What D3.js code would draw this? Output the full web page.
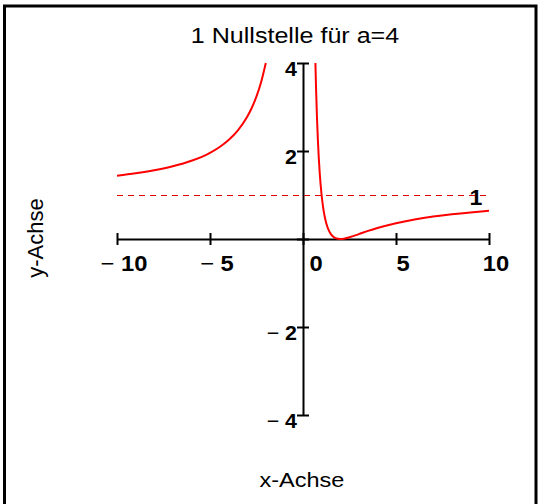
<!DOCTYPE html>
<html><head><meta charset="utf-8">
<script src="https://cdn.jsdelivr.net/npm/d3@7"></script>
<style>html,body{margin:0;padding:0;background:#fff;} svg{display:block}</style>
</head><body>
<svg id="chart" width="538" height="504"></svg>
<script>
const title = "1 Nullstelle für a=4";
const xAxisTitle = "x-Achse";
const yAxisTitle = "y-Achse";
const xTicks = [-10, -5, 0, 5, 10];
const xTickLabels = ["−10", "−5", "0", "5", "10"];
const yTicks = [-4, -2, 0, 2, 4];
const yTickLabels = ["−4", "−2", "", "2", "4"];
const asymptoteY = 1;
const asymptoteLabel = "1";
// left branch (x < 0)
const leftBranchX = [-10, -9, -8, -7, -6, -5, -4.5, -4, -3.5, -3, -2.75, -2.5, -2.25, -2];
const leftBranchY = [1.44, 1.494, 1.5625, 1.653, 1.778, 1.96, 2.086, 2.25, 2.469, 2.778, 2.983, 3.24, 3.568, 4.0];
// right branch (x > 0)
const rightBranchX = [0.667, 0.7, 0.75, 0.8, 0.85, 0.9, 1.0, 1.1, 1.2, 1.3, 1.4, 1.5, 1.6, 1.75, 2, 2.25, 2.5, 3, 3.5, 4, 5, 6, 7, 8, 9, 10];
const rightBranchY = [4.0, 3.449, 2.778, 2.25, 1.83, 1.494, 1.0, 0.669, 0.444, 0.29, 0.184, 0.111, 0.0625, 0.0204, 0, 0.0123, 0.04, 0.111, 0.184, 0.25, 0.36, 0.444, 0.51, 0.5625, 0.605, 0.64];

const FONT = "'Liberation Sans', Arial, Helvetica, sans-serif";
const svg = d3.select("#chart");

svg.append("rect").attr("x", 4.5).attr("y", 6).attr("width", 531.5).attr("height", 520)
  .attr("fill", "none").attr("stroke", "#000").attr("stroke-width", 3);

const x = d3.scaleLinear().domain([-10, 10]).range([117, 489]);
const y = d3.scaleLinear().domain([-4, 4]).range([415, 63]);

// x axis
const gx = svg.append("g").attr("transform", `translate(0,${y(0)})`)
  .call(d3.axisBottom(x).tickValues(xTicks).tickSizeOuter(0).tickFormat(""));
gx.select(".domain").attr("stroke", "#000").attr("stroke-width", 2);
gx.selectAll(".tick line").attr("y1", -6).attr("y2", 6).attr("stroke", "#000").attr("stroke-width", 2);

// y axis
const gy = svg.append("g").attr("transform", `translate(${x(0)},0)`)
  .call(d3.axisLeft(y).tickValues(yTicks).tickSizeOuter(0).tickFormat(""));
gy.select(".domain").attr("stroke", "#000").attr("stroke-width", 2);
gy.selectAll(".tick line").attr("x1", -6).attr("x2", 6).attr("stroke", "#000").attr("stroke-width", 2);

function labelText(sel, s) {
  if (s.startsWith("−")) {
    sel.append("tspan").attr("font-weight", "normal").text("− ");
    sel.append("tspan").attr("font-weight", "bold").text(s.slice(1));
  } else {
    sel.append("tspan").attr("font-weight", "bold").text(s);
  }
}

// x tick labels
xTicks.forEach((v, i) => {
  const t = svg.append("g")
    .attr("transform", `translate(${x(v) + (v === 0 ? 13 : 7)},${y(0) + 32}) scale(1.08,1)`)
    .append("text").attr("text-anchor", "middle")
    .attr("font-family", FONT).attr("font-size", 22).attr("fill", "#000");
  labelText(t, xTickLabels[i]);
});

// y tick labels
yTicks.forEach((v, i) => {
  if (!yTickLabels[i]) return;
  const t = svg.append("g")
    .attr("transform", `translate(${x(0) - 6},${y(v) + 13}) scale(1.02,1)`)
    .append("text").attr("text-anchor", "end")
    .attr("font-family", FONT).attr("font-size", 21).attr("fill", "#000");
  labelText(t, yTickLabels[i]);
});

// asymptote
svg.append("line")
  .attr("x1", x(-10)).attr("x2", x(10)).attr("y1", y(asymptoteY) + 0.5).attr("y2", y(asymptoteY) + 0.5)
  .attr("stroke", "#e00000").attr("stroke-width", 1).attr("stroke-dasharray", "6,5");
svg.append("g").attr("transform", `translate(${x(10) - 13},${y(asymptoteY) + 10}) scale(1.05,1)`)
  .append("text").attr("text-anchor", "middle").attr("font-family", FONT)
  .attr("font-size", 22).attr("font-weight", "bold").text(asymptoteLabel);

// curve
const line = d3.line().x(d => x(d[0])).y(d => y(d[1])).curve(d3.curveMonotoneX);
const leftPts = leftBranchX.map((v, i) => [v, leftBranchY[i]]);
const rightPts = rightBranchX.map((v, i) => [v, rightBranchY[i]]);
[leftPts, rightPts].forEach(p => {
  svg.append("path").attr("d", line(p)).attr("fill", "none")
    .attr("stroke", "#ff0000").attr("stroke-width", 2);
});

// titles
svg.append("g").attr("transform", "translate(295,43) scale(1.14,1)")
  .append("text").attr("text-anchor", "middle").attr("font-family", FONT)
  .attr("font-size", 22).attr("fill", "#000").text(title);
svg.append("g").attr("transform", "translate(302,487) scale(1.12,1)")
  .append("text").attr("text-anchor", "middle").attr("font-family", FONT)
  .attr("font-size", 21).attr("fill", "#000").text(xAxisTitle);
svg.append("g").attr("transform", `translate(43,${y(0) - 1}) rotate(-90)`)
  .append("text").attr("text-anchor", "middle").attr("font-family", FONT)
  .attr("font-size", 22).attr("fill", "#000").text(yAxisTitle);
</script>
</body></html>
